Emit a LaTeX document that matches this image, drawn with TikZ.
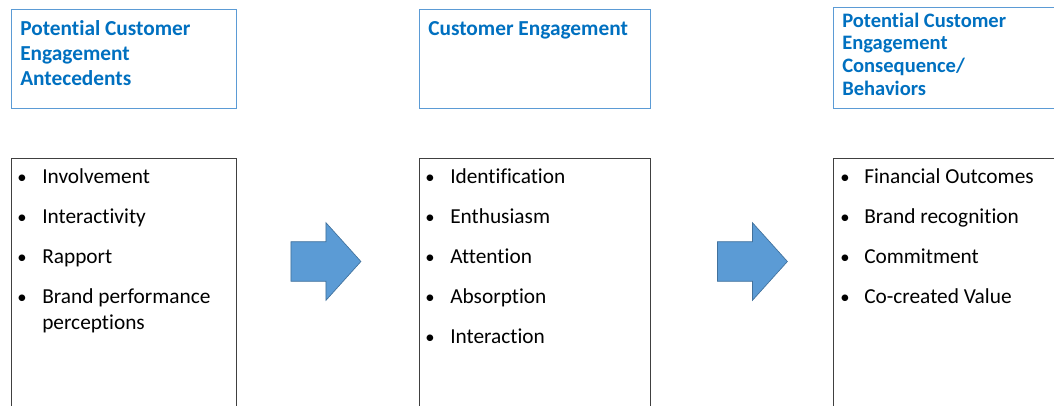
\documentclass[tikz,border=0pt]{standalone}
\usepackage{fontspec}
\setmainfont{Carlito}[Ligatures=NoCommon]
\usetikzlibrary{positioning, shapes.arrows}

\definecolor{hdblue}{RGB}{0,112,192}
\definecolor{hdline}{RGB}{91,155,213}
\definecolor{boxline}{RGB}{64,64,64}
\definecolor{arrowfill}{RGB}{91,155,213}
\definecolor{arrowline}{RGB}{65,113,156}

% text block hung from the baseline of its first line
\newcommand{\hang}[1]{\parbox[t]{160pt}{\raggedright #1}}

\begin{document}
\begin{tikzpicture}[x=0.75pt, y=-0.75pt,
    hdbox/.style={draw=hdline, line width=0.8pt, anchor=north west, minimum height=74.25pt, inner sep=0pt},
    listbox/.style={draw=boxline, line width=0.8pt, anchor=north west, minimum height=210pt, inner sep=0pt},
    hdtext/.style={anchor=base west, inner sep=0pt, text=hdblue, font=\fontsize{16}{19.1}\selectfont\bfseries},
    dot/.style={anchor=base, inner sep=0pt, font=\fontsize{14}{19.5}\selectfont},
    itemtext/.style={anchor=base west, inner sep=0pt, font=\fontsize{16}{19.5}\selectfont},
    flowarrow/.style={single arrow, draw=arrowline, fill=arrowfill, line width=0.5pt, inner sep=14.6pt,
        single arrow head extend=14.25pt, single arrow tip angle=96, minimum height=52.5pt}]
    \useasboundingbox (0,0) rectangle (1054,405);
    \clip (0,0) rectangle (1054,405);

    % Heading boxes
    \node[hdbox, minimum width=168.75pt] (anteH) at (11,9) {};
    \node[hdbox, minimum width=173.25pt] (engH) at (419,9) {};
    \node[hdbox, minimum width=173.25pt, minimum height=75.75pt] (consH) at (833,7) {};

    \node[hdtext] (anteT) at (20,35) {\hang{Potential Customer\\Engagement\\Antecedents}};
    \node[hdtext] (engT) at (428,35) {\hang{Customer Engagement}};
    \node[hdtext, font=\fontsize{15.4}{17.2}\selectfont\bfseries] (consT) at (842,27)
        {\hang{Potential Customer\\Engagement\\Consequence/\\Behaviors}};

    % List boxes
    \node[listbox, minimum width=168.75pt] (anteL) at (11,158) {};
    \node[listbox, minimum width=173.25pt] (engL) at (419,158) {};
    \node[listbox, minimum width=173.25pt] (consL) at (833,158) {};

    \foreach \entry [count=\i] in {Involvement, Interactivity, Rapport, {Brand performance\\perceptions}} {
        \node[dot] (anteB\i) at (22,143+40*\i) {\textbullet};
        \node[itemtext] (anteI\i) at (42,143+40*\i) {\hang{\entry}};
    }
    \foreach \entry [count=\i] in {Identification, Enthusiasm, Attention, Absorption, Interaction} {
        \node[dot] (engB\i) at (430,143+40*\i) {\textbullet};
        \node[itemtext] (engI\i) at (450,143+40*\i) {\hang{\entry}};
    }
    \foreach \entry [count=\i] in {Financial Outcomes, Brand recognition, Commitment, Co-created Value} {
        \node[dot] (consB\i) at (845,143+40*\i) {\textbullet};
        \node[itemtext] (consI\i) at (864,143+40*\i) {\hang{\entry}};
    }

    % Block arrows between the lists
    \node[flowarrow] (arrowA) at (317,261.5) {};
    \node[flowarrow] (arrowB) at (743.5,261.5) {};
\end{tikzpicture}
\end{document}
